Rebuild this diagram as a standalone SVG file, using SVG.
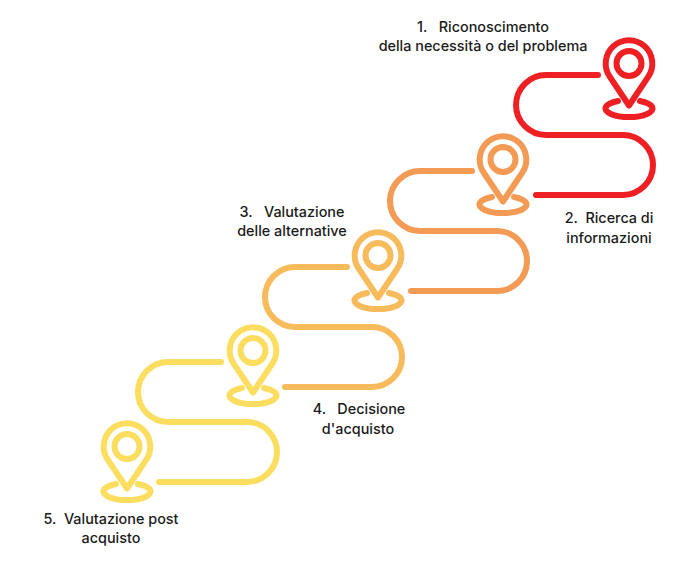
<svg xmlns="http://www.w3.org/2000/svg" width="700" height="587" viewBox="0 0 700 587">
<style>
.l{fill:none;stroke-width:6;stroke-linecap:round;stroke-linejoin:round}
.p{fill:none;stroke-width:6;stroke-linejoin:round;stroke-linecap:round}
.t{font-family:"Inter","Liberation Sans",sans-serif;font-size:14.4px;font-weight:500;fill:#1a1a1a;text-anchor:middle;white-space:pre}
</style>
<defs>
<g id="pin">
<path d="M0 42 L-19.3 13.1 A23.3 23.3 0 1 1 19.3 13.1 Z"/>
<circle cx="0" cy="0" r="12.5"/>
<path d="M-11 37.5 A23.5 8.5 0 1 0 11 37.5"/>
</g>
</defs>
<rect width="700" height="587" fill="#fff"/>
<g id="connectors">
<path class="l" stroke="#ee2024" d="M598 75H546A30 30 0 0 0 546 135H623A30 30 0 0 1 623 195H536"/>
<path class="l" stroke="#f39a54" d="M472 171H420A30 30 0 0 0 420 231H497A30 30 0 0 1 497 291H411"/>
<path class="l" stroke="#f8bb5c" d="M347 267H295A30 30 0 0 0 295 327H372A30 30 0 0 1 372 387H285"/>
<path class="l" stroke="#fbdd60" d="M221 362H168A30 30 0 0 0 168 422H247A30 30 0 0 1 247 482H159"/>
</g>
<g id="node1"><use href="#pin" x="629" y="63.5" class="p" stroke="#ee2024"/><text class="t" x="483" y="32">1.   Riconoscimento</text><text class="t" x="483" y="51">della necessità o del problema</text></g>
<g id="node2"><use href="#pin" x="503" y="159.5" class="p" stroke="#f39a54"/><text class="t" x="609" y="223">2.  Ricerca di</text><text class="t" x="609" y="243">informazioni</text></g>
<g id="node3"><use href="#pin" x="378" y="255.5" class="p" stroke="#f8bb5c"/><text class="t" x="292" y="217">3.   Valutazione</text><text class="t" x="292" y="236">delle alternative</text></g>
<g id="node4"><use href="#pin" x="253" y="350.5" class="p" stroke="#fbdd60"/><text class="t" x="359" y="414">4.   Decisione</text><text class="t" x="358" y="434">d'acquisto</text></g>
<g id="node5"><use href="#pin" x="127" y="446.5" class="p" stroke="#fbdd60"/><text class="t" x="111" y="524">5.  Valutazione post</text><text class="t" x="111" y="543">acquisto</text></g>
</svg>
